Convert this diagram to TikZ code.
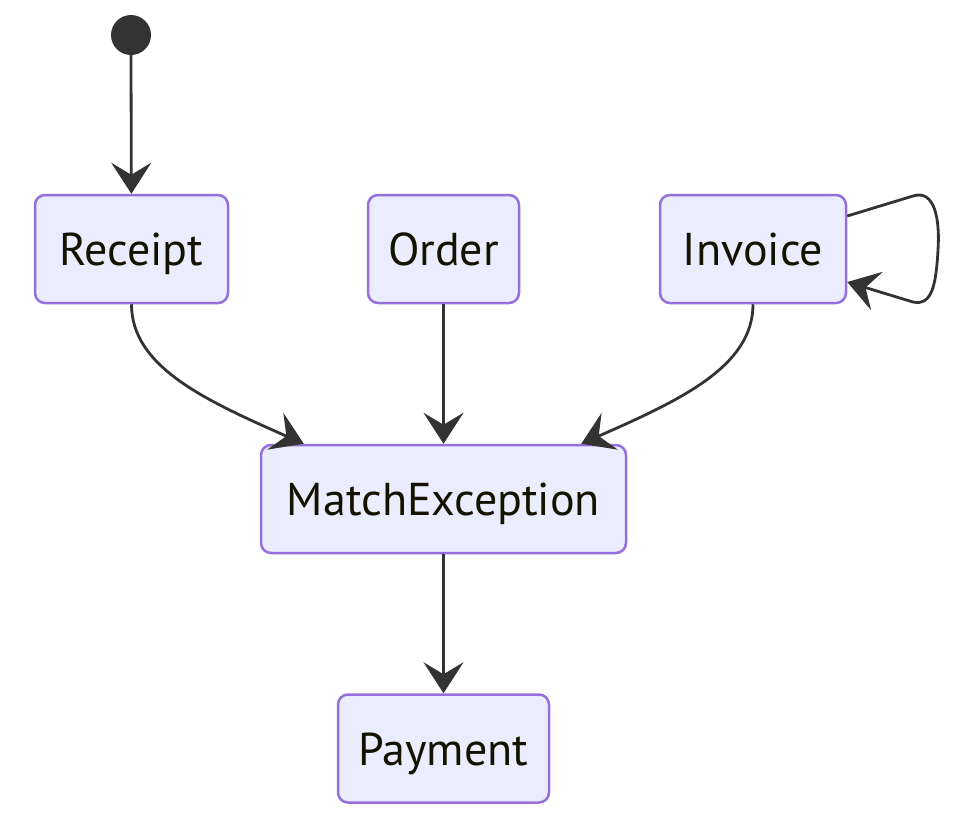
\documentclass[tikz,border=0pt]{standalone}
\usepackage{fontspec}
\setmainfont{PT Sans}
\usetikzlibrary{arrows.meta}
\definecolor{boxfill}{HTML}{ECECFF}
\definecolor{boxline}{HTML}{9370DB}
\definecolor{edgecol}{HTML}{333333}
\definecolor{textcol}{HTML}{131300}
\begin{document}
\begin{tikzpicture}[x=1pt,y=-1pt,
    state/.style={draw=boxline,fill=boxfill,line width=2.5pt,rounded corners=10pt,
        minimum height=108pt,inner sep=0pt,text height=33pt,text depth=0pt,
        text=textcol,font=\fontsize{46}{50}\selectfont},
    edge/.style={draw=edgecol,line width=2.8pt,-{Stealth[length=31pt,width=40pt,inset=12pt]}}]
    \useasboundingbox (0,0) rectangle (960,812);
    \fill[edgecol] (131,35) circle (20pt);
    \coordinate (start) at (131,55);
    \node[state,minimum width=193pt] (rec) at (131.5,249) {Receipt};
    \node[state,minimum width=151pt] (ord) at (443.5,249) {Order};
    \node[state,minimum width=186pt] (inv) at (753,249) {Invoice};
    \node[state,minimum width=365pt] (mx) at (443.5,499) {MatchException};
    \node[state,minimum width=211pt] (pay) at (443.5,748.5) {Payment};
    \draw[edge] (start) -- (rec);
    \draw[edge] (rec.south) .. controls +(0,62) and +(-100,-44) .. ([xshift=44pt]mx.north west);
    \draw[edge] (ord) -- (mx);
    \draw[edge] (inv.south) .. controls +(0,62) and +(100,-44) .. ([xshift=-46pt]mx.north east);
    \draw[edge] ([yshift=33pt]inv.east) -- (913,196) .. controls (935,189) and (940,220) .. (938,250)
        .. controls (936,285) and (932,306) .. (913,302) -- ([yshift=-33pt]inv.east);
    \draw[edge] (mx) -- (pay);
\end{tikzpicture}
\end{document}
